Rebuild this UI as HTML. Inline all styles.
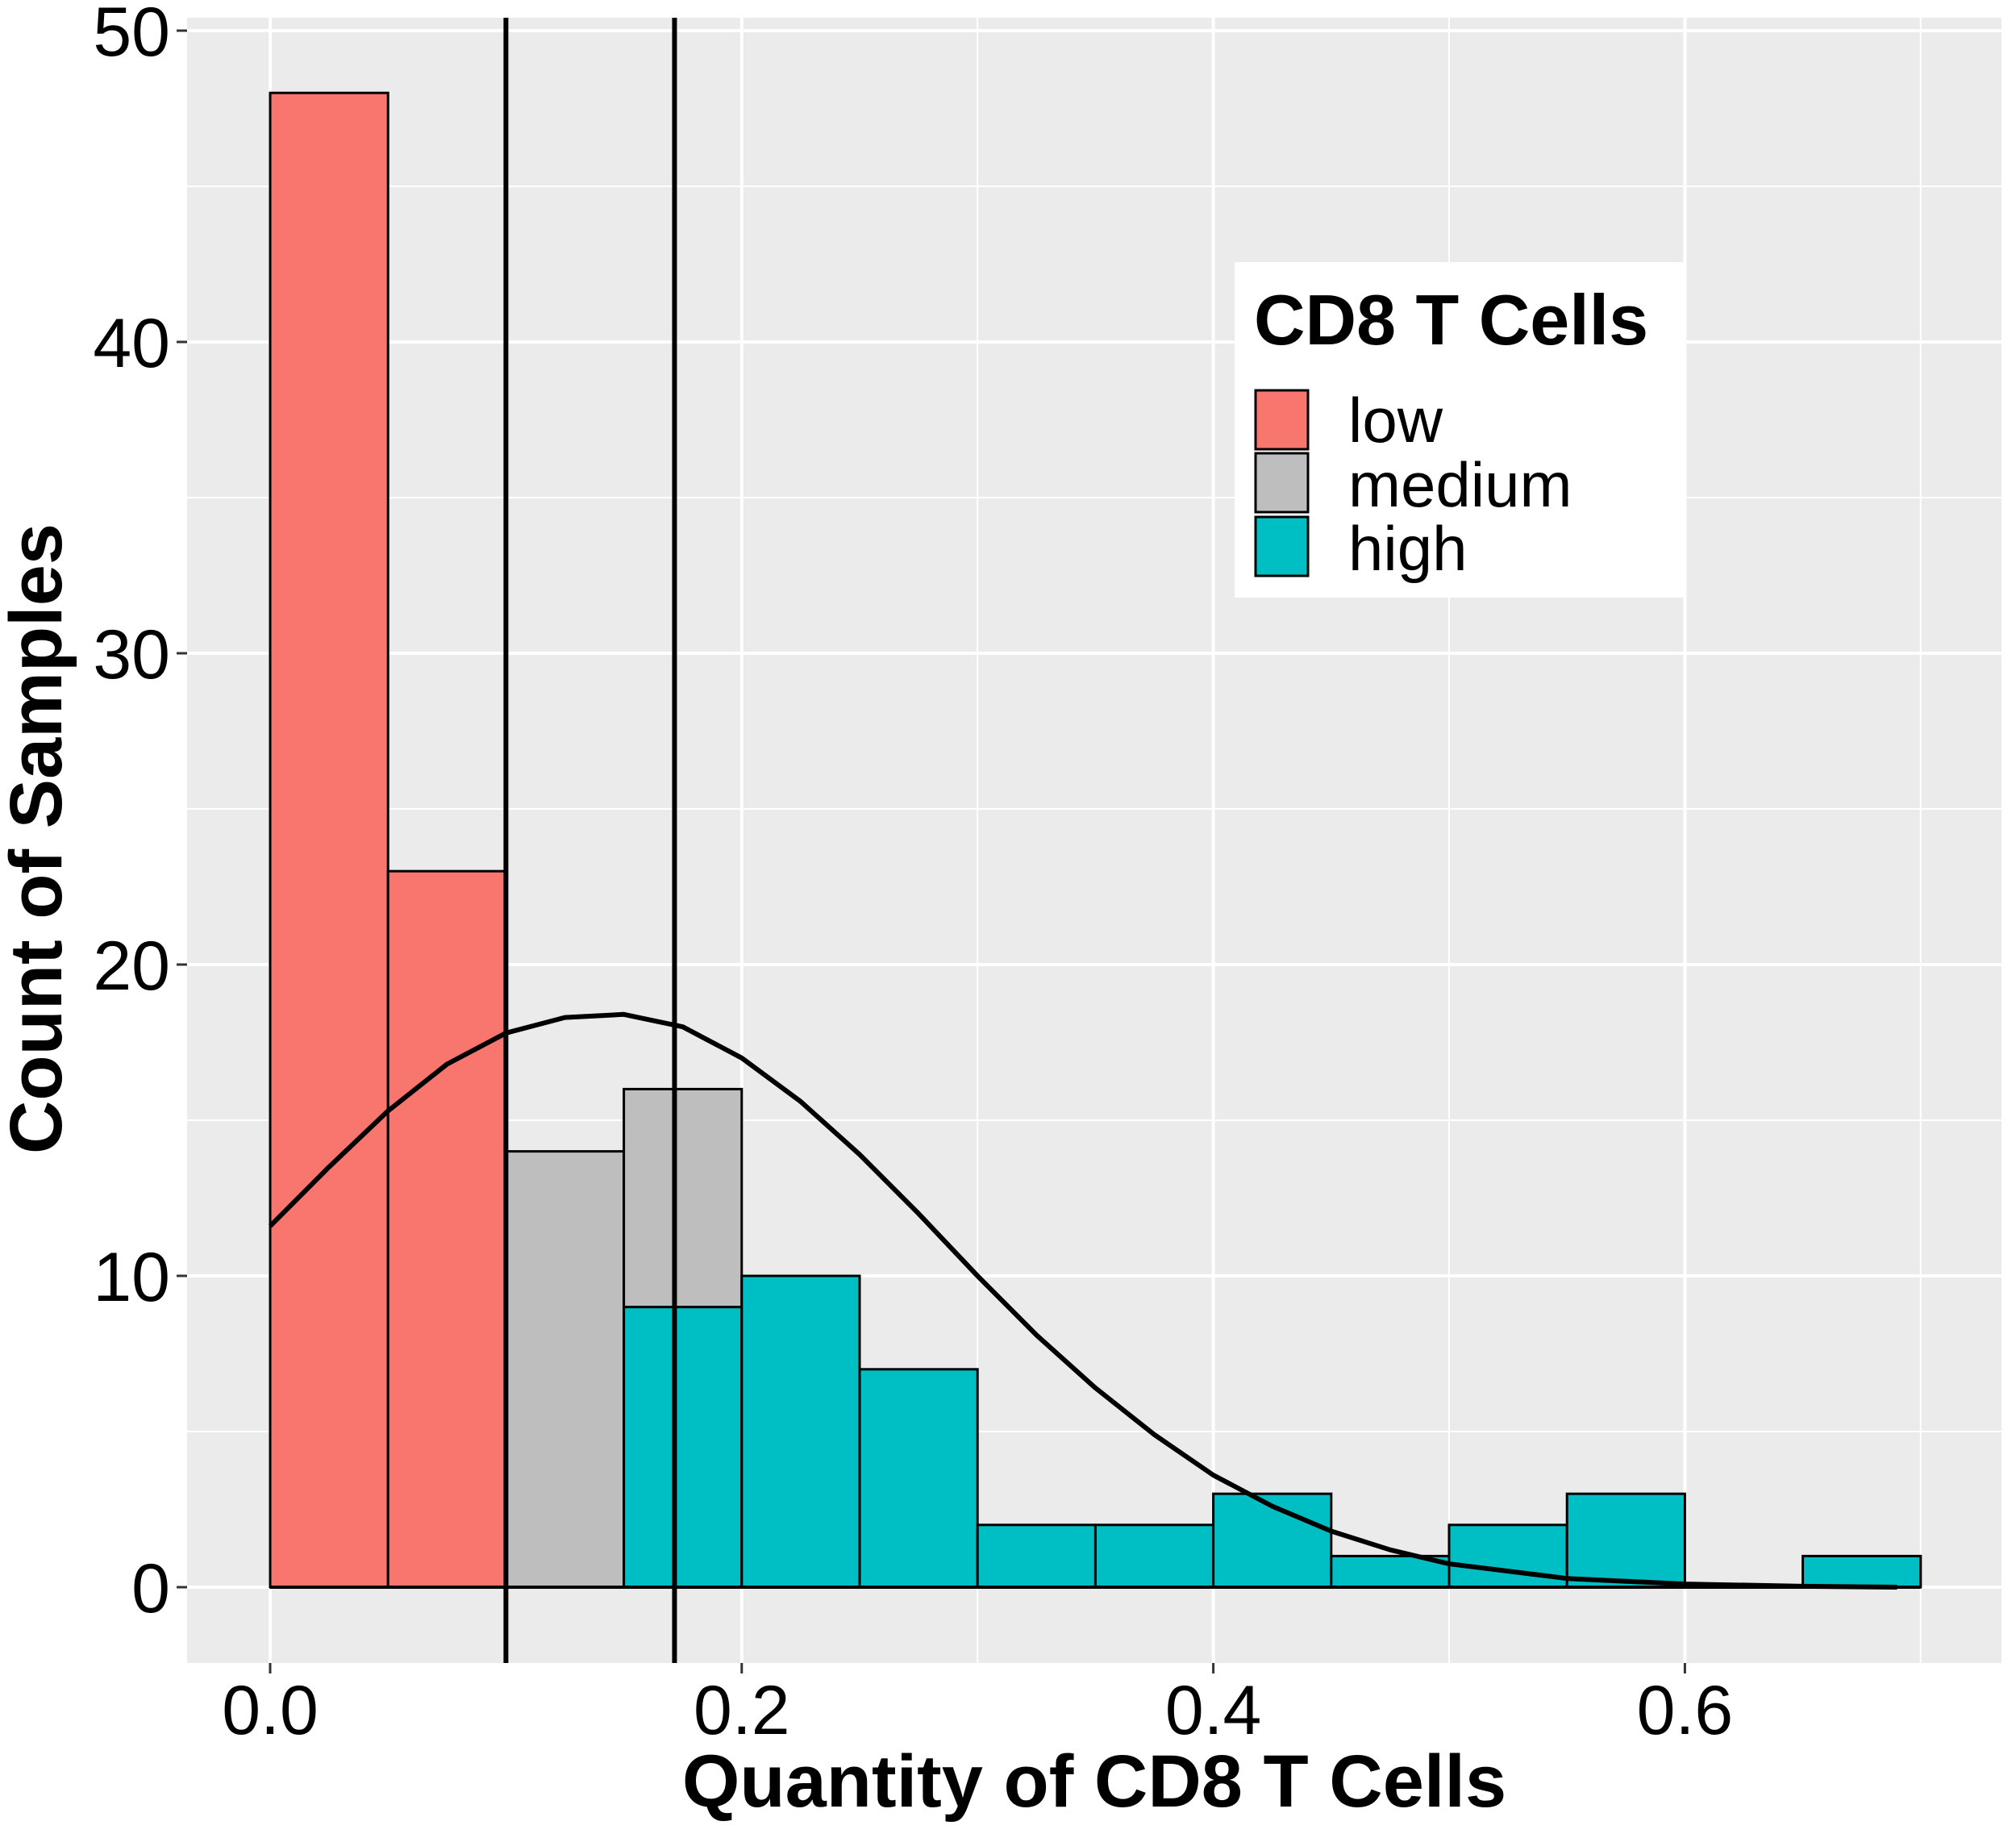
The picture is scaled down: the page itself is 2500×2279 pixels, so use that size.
<!DOCTYPE html>
<html><head><meta charset="utf-8"><style>body{margin:0;background:#fff}svg{display:block}text{font-family:"Liberation Sans",Arial,sans-serif}</style></head>
<body>
<svg id="chart" width="2500" height="2279" viewBox="0 0 2500 2279" xmlns="http://www.w3.org/2000/svg">
<rect x="232" y="22" width="2250" height="2040" fill="#ebebeb"/>
<g id="grid"></g><g id="bars"></g><g id="lines"></g><g id="axes"></g>
<g>
<rect x="1531" y="325" width="557" height="416" fill="#fff"/>
<text x="1555" y="427" font-size="88" font-weight="bold">CD8 T Cells</text>
<rect x="1557" y="484" width="65" height="73" fill="#f8766d" stroke="#000" stroke-width="3"/>
<rect x="1557" y="562" width="65" height="73" fill="#bebebe" stroke="#000" stroke-width="3"/>
<rect x="1557" y="641" width="65" height="73" fill="#00bfc4" stroke="#000" stroke-width="3"/>
<text x="1672" y="548" font-size="78">low</text>
<text x="1672" y="628" font-size="78">medium</text>
<text x="1672" y="707" font-size="78">high</text>
</g>
<text x="1357" y="2240" font-size="92" font-weight="bold" text-anchor="middle">Quantity of CD8 T Cells</text>
<text transform="translate(76,1040) rotate(-90)" font-size="92" font-weight="bold" text-anchor="middle">Count of Samples</text>
</svg>
<script>
const binStarts=[0,0.05,0.1,0.15,0.2,0.25,0.3,0.35,0.4,0.45,0.5,0.55,0.6,0.65];
const lowCounts=[48,23,0,0,0,0,0,0,0,0,0,0,0,0];
const mediumCounts=[0,0,14,7,0,0,0,0,0,0,0,0,0,0];
const highCounts=[0,0,0,9,10,7,2,2,3,1,2,3,0,1];
const curveX=[0,0.025,0.05,0.075,0.1,0.125,0.15,0.175,0.2,0.225,0.25,0.275,0.3,0.325,0.35,0.375,0.4,0.425,0.45,0.475,0.5,0.55,0.6,0.65,0.69];
const curveY=[11.6,13.5,15.3,16.8,17.8,18.3,18.4,18.0,17.0,15.6,13.9,12.0,10.0,8.1,6.4,4.9,3.6,2.6,1.8,1.2,0.75,0.28,0.1,0.03,0.0];
const cutoffs=[0.1,0.1715];
const xTicks=[0,0.2,0.4,0.6];const xTickLabels=["0.0","0.2","0.4","0.6"];
const yTicks=[0,10,20,30,40,50];const yTickLabels=["0","10","20","30","40","50"];
const binWidth=0.05;
const NS="http://www.w3.org/2000/svg";
const X=v=>335+v*2924, Y=v=>1968-v*38.6;
function mk(tag,parent,attrs){const e=document.createElementNS(NS,tag);for(const k in attrs)e.setAttribute(k,attrs[k]);document.getElementById(parent).appendChild(e);return e;}
[0.1,0.3,0.5,0.7].forEach(v=>{const e=mk('line','grid',{x1:X(v),x2:X(v),y1:22,y2:2062,stroke:'#fff','stroke-width':2});

});
[5,15,25,35,45].forEach(v=>{const e=mk('line','grid',{x1:232,x2:2482,y1:Y(v),y2:Y(v),stroke:'#fff','stroke-width':2});

});
xTicks.forEach((v,i)=>{const e=mk('line','grid',{x1:X(v),x2:X(v),y1:22,y2:2062,stroke:'#fff','stroke-width':4});


const t=mk('line','axes',{x1:X(v),x2:X(v),y1:2062,y2:2075,stroke:'#333','stroke-width':3});


const l=mk('text','axes',{x:X(v),y:2150,'font-size':86,'text-anchor':'middle'});l.textContent=xTickLabels[i];

});
yTicks.forEach((v,i)=>{const e=mk('line','grid',{x1:232,x2:2482,y1:Y(v),y2:Y(v),stroke:'#fff','stroke-width':4});


const t=mk('line','axes',{x1:219,x2:232,y1:Y(v),y2:Y(v),stroke:'#333','stroke-width':3});


const l=mk('text','axes',{x:211,y:Y(v)+31,'font-size':86,'text-anchor':'end'});l.textContent=yTickLabels[i];

});
binStarts.forEach((b,i)=>{let base=0;
[[highCounts,'#00bfc4','high'],[mediumCounts,'#bebebe','medium'],[lowCounts,'#f8766d','low']].forEach(([arr,c,n])=>{
const v=arr[i];if(v>0){const r=mk('rect','bars',{x:X(b),y:Y(base+v),width:X(b+binWidth)-X(b),height:Y(base)-Y(base+v),fill:c,stroke:'#000','stroke-width':3});

base+=v;}});});
const bl=mk('line','bars',{x1:X(0),x2:X(0.7),y1:Y(0),y2:Y(0),stroke:'#000','stroke-width':4});


cutoffs.forEach(v=>{const e=mk('line','lines',{x1:X(v),x2:X(v),y1:22,y2:2062,stroke:'#000','stroke-width':6});

});
const p=mk('polyline','lines',{points:curveX.map((x,i)=>X(x)+','+Y(curveY[i])).join(' '),fill:'none',stroke:'#000','stroke-width':6,'stroke-linejoin':'round'});


</script>
</body></html>
